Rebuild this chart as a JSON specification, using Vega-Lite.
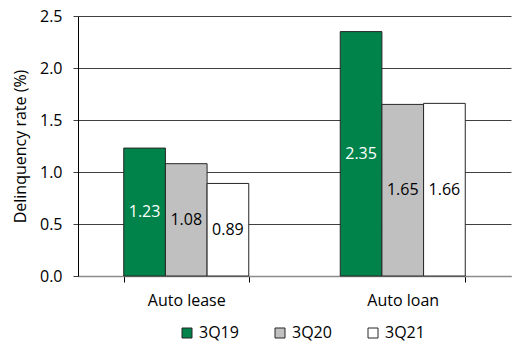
{
  "$schema": "https://vega.github.io/schema/vega-lite/v6.json",
  "width": 433,
  "height": 260,
  "autosize": {"type": "none"},
  "padding": {"left": 78, "top": 16, "right": 1, "bottom": 67},
  "background": "white",
  "config": {
    "view": {"stroke": null},
    "font": "Open Sans",
    "axis": {"labelFont": "Open Sans", "titleFont": "Open Sans", "labelColor": "#000", "titleColor": "#000"},
    "legend": {"labelFont": "Open Sans", "labelColor": "#000"}
  },
  "data": {
    "values": [
      {"category": "Auto lease", "quarter": "3Q19", "rate": 1.23},
      {"category": "Auto lease", "quarter": "3Q20", "rate": 1.08},
      {"category": "Auto lease", "quarter": "3Q21", "rate": 0.89},
      {"category": "Auto loan", "quarter": "3Q19", "rate": 2.35},
      {"category": "Auto loan", "quarter": "3Q20", "rate": 1.65},
      {"category": "Auto loan", "quarter": "3Q21", "rate": 1.66}
    ]
  },
  "encoding": {
    "x": {
      "field": "category",
      "type": "nominal",
      "scale": {"paddingInner": 0.4226, "paddingOuter": 0.2113},
      "axis": {
        "title": null,
        "labelAngle": 0,
        "labelFontSize": 16,
        "labelPadding": 10,
        "tickBand": "extent",
        "tickSize": 6,
        "tickColor": "#000",
        "domainColor": "#8c8c8c",
        "domainWidth": 1.5
      }
    },
    "xOffset": {"field": "quarter", "type": "nominal", "scale": {"paddingInner": 0, "paddingOuter": 0}}
  },
  "layer": [
    {
      "mark": {"type": "bar", "stroke": "#262626", "strokeWidth": 1},
      "encoding": {
        "y": {
          "field": "rate",
          "type": "quantitative",
          "scale": {"domain": [0, 2.5], "nice": false},
          "axis": {
            "title": "Delinquency rate (%)",
            "titleFontSize": 16,
            "titleFontWeight": "normal",
            "titlePadding": 11,
            "labelFontSize": 16,
            "labelPadding": 11,
            "values": [0, 0.5, 1, 1.5, 2, 2.5],
            "format": ".1f",
            "tickSize": 5,
            "tickColor": "#404040",
            "domainColor": "#000",
            "grid": true,
            "gridColor": "#404040",
            "gridWidth": 1
          }
        },
        "fill": {
          "field": "quarter",
          "type": "nominal",
          "scale": {"domain": ["3Q19", "3Q20", "3Q21"], "range": ["#00834a", "#c0c0c0", "#ffffff"]},
          "legend": {
            "title": null,
            "orient": "none",
            "direction": "horizontal",
            "legendX": 101,
            "legendY": 309,
            "symbolType": "square",
            "symbolSize": 100,
            "symbolStrokeColor": "#262626",
            "symbolStrokeWidth": 1,
            "symbolOpacity": 1,
            "labelFontSize": 16,
            "labelOffset": 4,
            "columnPadding": 33
          }
        }
      }
    },
    {
      "transform": [{"calculate": "datum.rate / 2", "as": "mid"}],
      "mark": {"type": "text", "fontSize": 16, "baseline": "middle", "align": "center"},
      "encoding": {
        "y": {"field": "mid", "type": "quantitative"},
        "text": {"field": "rate", "type": "quantitative", "format": ".2f"},
        "color": {
          "condition": {"test": "datum.quarter === '3Q19'", "value": "#ffffff"},
          "value": "#000000"
        }
      }
    }
  ]
}
